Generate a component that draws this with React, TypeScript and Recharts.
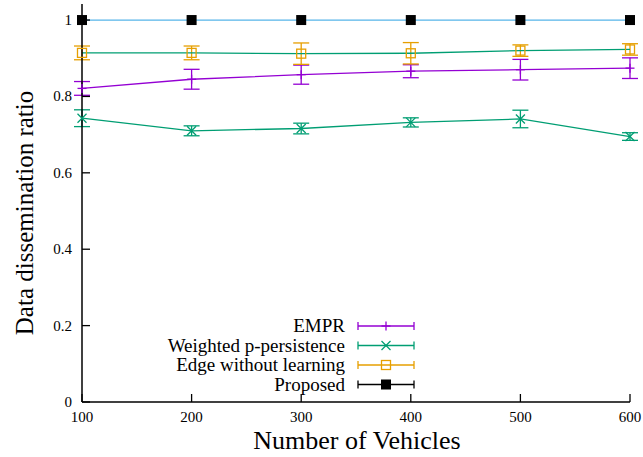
import { LineChart, Line, XAxis, YAxis, ErrorBar, Legend } from 'recharts';

// number of vehicles on the x axis
const vehicles = [100, 200, 300, 400, 500, 600];

// data dissemination ratio per scheme, with error bar half-heights
const empr = [0.821, 0.845, 0.857, 0.866, 0.87, 0.874];
const emprErr = [0.018, 0.026, 0.025, 0.017, 0.027, 0.027];
const weighted = [0.743, 0.71, 0.716, 0.732, 0.741, 0.695];
const weightedErr = [0.022, 0.013, 0.014, 0.012, 0.023, 0.01];
const edge = [0.914, 0.914, 0.912, 0.913, 0.92, 0.923];
const edgeErr = [0.018, 0.018, 0.028, 0.028, 0.015, 0.015];
const proposed = [1, 1, 1, 1, 1, 1];
const proposedErr = [0, 0, 0, 0, 0, 0];

const xTicks = [100, 200, 300, 400, 500, 600];
const yTicks = [0, 0.2, 0.4, 0.6, 0.8, 1];

const seriesNames = ['EMPR', 'Weighted p-persistence', 'Edge without learning', 'Proposed'];

const data = vehicles.map((v, i) => ({
  vehicles: v,
  empr: empr[i],
  emprErr: emprErr[i],
  weighted: weighted[i],
  weightedErr: weightedErr[i],
  edge: edge[i],
  edgeErr: edgeErr[i],
  proposed: proposed[i],
  proposedErr: proposedErr[i],
}));

const FONT = '"Liberation Serif", "DejaVu Serif", serif';
const PURPLE = '#9400d3';
const GREEN = '#009e73';
const ORANGE = '#e69f00';
const BLUE = '#56b4e9';
const TM = 8;
const TICK = 8;

// gnuplot-like point shapes
const Marker = ({ kind, cx, cy, color }: any) => {
  const s = 4.5;
  if (kind === 'plus')
    return (
      <g stroke={color} strokeWidth={1.3}>
        <line x1={cx - s} x2={cx + s} y1={cy} y2={cy} />
        <line x1={cx} x2={cx} y1={cy - s} y2={cy + s} />
      </g>
    );
  if (kind === 'cross')
    return (
      <g stroke={color} strokeWidth={1.3}>
        <line x1={cx - s} x2={cx + s} y1={cy - s} y2={cy + s} />
        <line x1={cx - s} x2={cx + s} y1={cy + s} y2={cy - s} />
      </g>
    );
  if (kind === 'box')
    return <rect x={cx - s} y={cy - s} width={2 * s} height={2 * s} fill="none" stroke={color} strokeWidth={1.3} />;
  return <rect x={cx - 5} y={cy - 5} width={10} height={10} fill={color} />;
};

const dotFor = (kind: string, color: string) => (props: any) =>
  <Marker key={`${kind}-${props.index}`} kind={kind} cx={props.cx} cy={props.cy} color={color} />;

// inward ticks with labels
const BottomTick = ({ x, y, payload }: any) => (
  <g>
    <line x1={x} x2={x} y1={y - TM} y2={y - TM - TICK} stroke="#000" strokeWidth={1.3} />
    <text x={x} y={y + 12} textAnchor="middle" fontFamily={FONT} fontSize={15} fill="#000">
      {payload.value}
    </text>
  </g>
);
const TopTick = ({ x, y }: any) => (
  <line x1={x} x2={x} y1={y + TM} y2={y + TM + TICK} stroke="#000" strokeWidth={1.3} />
);
const LeftTick = ({ x, y, payload }: any) => (
  <g>
    <line x1={x + TM + 2} x2={x + TM + 2 + TICK} y1={y} y2={y} stroke="#000" strokeWidth={1.3} />
    <text x={x} y={y + 5} textAnchor="end" fontFamily={FONT} fontSize={15} fill="#000">
      {payload.value}
    </text>
  </g>
);
const RightTick = ({ x, y }: any) => (
  <line x1={x - TM} x2={x - TM - TICK} y1={y} y2={y} stroke="#000" strokeWidth={1.3} />
);

const YTitle = () => (
  <text transform="translate(33,213) rotate(-90)" textAnchor="middle" fontFamily={FONT} fontSize={25} fill="#000">
    Data dissemination ratio
  </text>
);

const XTitle = () => (
  <text x={357} y={449} textAnchor="middle" fontFamily={FONT} fontSize={26} fill="#000">
    Number of Vehicles
  </text>
);

const legendItems = [
  { kind: 'plus', color: PURPLE },
  { kind: 'cross', color: GREEN },
  { kind: 'box', color: ORANGE },
  { kind: 'fill', color: '#000' },
];

const KeyBox = () => (
  <svg width={280} height={82}>
    {seriesNames.map((name, i) => {
      const y = 11 + i * 19.5;
      const c = legendItems[i].color;
      return (
        <g key={name}>
          <text x={205} y={y + 6} textAnchor="end" fontFamily={FONT} fontSize={19} fill="#000">
            {name}
          </text>
          <line x1={218} x2={274} y1={y} y2={y} stroke={c} strokeWidth={1.3} />
          <line x1={218} x2={218} y1={y - 4} y2={y + 4} stroke={c} strokeWidth={1.3} />
          <line x1={274} x2={274} y1={y - 4} y2={y + 4} stroke={c} strokeWidth={1.3} />
          <Marker kind={legendItems[i].kind} cx={246} cy={y} color={c} />
        </g>
      );
    })}
  </svg>
);

export default function App() {
  return (
    <div style={{ position: 'absolute', left: 0, top: 0, width: 643, height: 457, background: '#fff' }}>
      <LineChart width={643} height={457} data={data} margin={{ top: 4, right: 13, left: 0, bottom: 0 }}>
        <XAxis
          dataKey="vehicles"
          type="number"
          domain={[100, 600]}
          ticks={xTicks}
          tick={<BottomTick />}
          tickLine={false}
          tickSize={0}
          tickMargin={TM}
          axisLine={{ stroke: '#000', strokeWidth: 1.5 }}
          height={55}
          interval={0}
          label={{ content: () => <XTitle /> }}
        />
        <XAxis
          xAxisId="top"
          dataKey="vehicles"
          type="number"
          orientation="top"
          domain={[100, 600]}
          ticks={xTicks}
          tick={<TopTick />}
          tickLine={false}
          tickSize={0}
          tickMargin={TM}
          axisLine={{ stroke: '#000', strokeWidth: 1.5 }}
          height={0}
          interval={0}
        />
        <YAxis
          type="number"
          domain={[0, 1.042]}
          ticks={yTicks}
          tick={<LeftTick />}
          tickLine={false}
          tickSize={0}
          tickMargin={TM + 2}
          axisLine={{ stroke: '#000', strokeWidth: 1.5 }}
          width={82}
          interval={0}
          label={{ content: () => <YTitle /> }}
        />
        <YAxis
          yAxisId="right"
          type="number"
          orientation="right"
          domain={[0, 1.042]}
          ticks={yTicks}
          tick={<RightTick />}
          tickLine={false}
          tickSize={0}
          tickMargin={TM}
          axisLine={{ stroke: '#000', strokeWidth: 1.5 }}
          width={0}
          interval={0}
        />
        <Legend
          layout="vertical"
          align="center"
          verticalAlign="middle"
          content={() => <KeyBox />}
          wrapperStyle={{ left: 140, top: 315, width: 280 }}
        />
        <Line dataKey="empr" stroke={PURPLE} strokeWidth={1.3} dot={dotFor('plus', PURPLE)} isAnimationActive={false}>
          <ErrorBar dataKey="emprErr" direction="y" width={8} stroke={PURPLE} strokeWidth={1.3} />
        </Line>
        <Line dataKey="weighted" stroke={GREEN} strokeWidth={1.3} dot={dotFor('cross', GREEN)} isAnimationActive={false}>
          <ErrorBar dataKey="weightedErr" direction="y" width={8} stroke={GREEN} strokeWidth={1.3} />
        </Line>
        <Line dataKey="edge" stroke={GREEN} strokeWidth={1.3} dot={dotFor('box', ORANGE)} isAnimationActive={false}>
          <ErrorBar dataKey="edgeErr" direction="y" width={8} stroke={ORANGE} strokeWidth={1.3} />
        </Line>
        <Line dataKey="proposed" stroke={BLUE} strokeWidth={1.3} dot={dotFor('fill', '#000')} isAnimationActive={false}>
          <ErrorBar dataKey="proposedErr" direction="y" width={8} stroke="#000" strokeWidth={1.3} />
        </Line>
      </LineChart>
    </div>
  );
}
